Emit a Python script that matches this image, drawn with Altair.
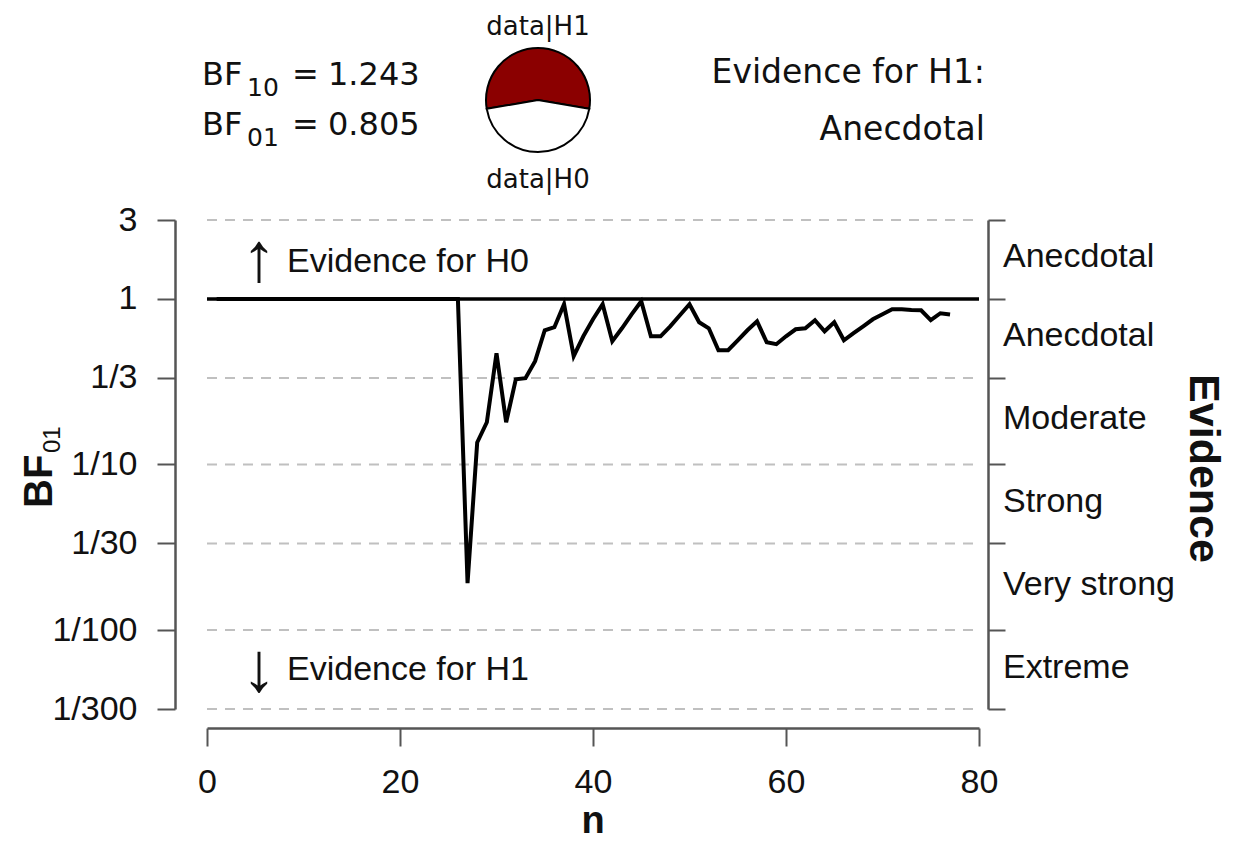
import math
import altair as alt
import pandas as pd

# ---------------- data ----------------
n_values = [1, 2, 3, 4, 5, 6, 7, 8, 9, 10, 11, 12, 13, 14, 15, 16, 17, 18, 19, 20,
            21, 22, 23, 24, 25, 26, 27, 28, 29, 30, 31, 32, 33, 34, 35, 36, 37, 38, 39, 40,
            41, 42, 43, 44, 45, 46, 47, 48, 49, 50, 51, 52, 53, 54, 55, 56, 57, 58, 59, 60,
            61, 62, 63, 64, 65, 66, 67, 68, 69, 70, 71, 72, 73, 74, 75, 76, 77]
bf01_values = [1.0, 1.0, 1.0, 1.0, 1.0, 1.0, 1.0, 1.0, 1.0, 1.0,
               1.0, 1.0, 1.0, 1.0, 1.0, 1.0, 1.0, 1.0, 1.0, 1.0,
               1.0, 1.0, 1.0, 1.0, 1.0, 1.0,
               0.0192, 0.136, 0.180, 0.470, 0.180, 0.327, 0.332, 0.421, 0.647, 0.675,
               0.929, 0.451, 0.595, 0.754, 0.929, 0.555, 0.665, 0.808, 0.969, 0.595,
               0.595, 0.684, 0.797, 0.929, 0.723, 0.665, 0.490, 0.490, 0.563, 0.647,
               0.733, 0.548, 0.533, 0.595, 0.656, 0.665, 0.744, 0.638, 0.723, 0.563,
               0.621, 0.684, 0.754, 0.808, 0.867, 0.867, 0.858, 0.854, 0.744, 0.820,
               0.805]

y_tick_values = [3, 1, 1/3, 1/10, 1/30, 1/100, 1/300]
grid_values = [3, 1/3, 1/10, 1/30, 1/100, 1/300]
x_tick_values = [0, 20, 40, 60, 80]

evidence_labels = ["Anecdotal", "Anecdotal", "Moderate", "Strong", "Very strong", "Extreme"]
evidence_upper = [3, 1, 1/3, 1/10, 1/30, 1/100]
evidence_lower = [1, 1/3, 1/10, 1/30, 1/100, 1/300]

bf10 = 1.243
bf01 = 0.805
bf10_text = "1.243"
bf01_text = "0.805"
verdict_lines = ["Evidence for H1:", "Anecdotal"]

# ---------------- layout ----------------
W, H = 772, 489
FONT = "Liberation Sans"
HFONT = "DejaVu Sans"
AXIS_GREY = "#555555"

xs = alt.Scale(domain=[0, 80], nice=False, zero=False)
ys = alt.Scale(type="log", domain=[1/300, 3], nice=False)

label_expr = "datum.value >= 0.99 ? format(datum.value, '.0f') : '1/' + format(1 / datum.value, '.0f')"

left_axis = alt.Axis(
    orient="left", values=y_tick_values, labelExpr=label_expr, title=None,
    offset=32, tickSize=18, tickWidth=2, tickColor=AXIS_GREY,
    domainColor=AXIS_GREY, domainWidth=2.5, labelPadding=20,
    labelFont=FONT, labelFontSize=34, labelColor="#111111",
    labelOverlap=False, grid=False,
)
right_axis = alt.Axis(
    orient="right", values=y_tick_values, labels=False, title=None,
    offset=9, tickSize=17, tickWidth=2, tickColor=AXIS_GREY,
    domainColor=AXIS_GREY, domainWidth=2.5, grid=False,
)
x_axis = alt.Axis(
    orient="bottom", values=x_tick_values, title=None, format="d",
    offset=19, tickSize=18, tickWidth=2, tickColor=AXIS_GREY,
    domainColor=AXIS_GREY, domainWidth=2.5, labelPadding=19,
    labelFont=FONT, labelFontSize=34, labelColor="#111111",
    labelOverlap=False, labelFlush=False, grid=False,
)

line_df = pd.DataFrame({"n": n_values, "bf": bf01_values})
grid_df = pd.DataFrame({"v": grid_values})
ref_df = pd.DataFrame({"v": [1]})
ev_df = pd.DataFrame({"label": evidence_labels, "lo": evidence_lower, "hi": evidence_upper})

grid = alt.Chart(grid_df).mark_rule(
    strokeDash=[10, 8], color="#C0C0C0", strokeWidth=2
).encode(
    y=alt.Y("v:Q", scale=ys, axis=right_axis),
    x=alt.value(0), x2=alt.value(W),
)

ref = alt.Chart(ref_df).mark_rule(color="black", strokeWidth=3.5).encode(
    y=alt.Y("v:Q", scale=ys, axis=None),
    x=alt.value(0), x2=alt.value(W),
)

line = alt.Chart(line_df).mark_line(color="black", strokeWidth=4).encode(
    x=alt.X("n:Q", scale=xs, axis=x_axis),
    y=alt.Y("bf:Q", scale=ys, axis=left_axis),
)

ev_text = alt.Chart(ev_df).transform_calculate(
    mid="sqrt(datum.lo * datum.hi)"
).mark_text(
    align="left", baseline="alphabetic", dy=8, font=FONT, fontSize=34, color="#111111"
).encode(
    y=alt.Y("mid:Q", scale=ys, axis=None),
    x=alt.value(796),
    text="label:N",
)


def txt(text, x, y, size, font=FONT, weight="normal", align="left",
        baseline="alphabetic", angle=0, color="#111111"):
    kw = dict(align=align, baseline=baseline, font=font, fontSize=size,
              fontWeight=weight, color=color)
    if angle:
        kw["angle"] = angle
    return alt.Chart(pd.DataFrame({"t": [text]})).mark_text(**kw).encode(
        text="t:N", x=alt.value(x), y=alt.value(y)
    )


annotations = [
    # evidence direction notes
    txt("\u2191", 52, 40, 70, align="center", baseline="middle"),
    txt("Evidence for H0", 80, 52, 34),
    txt("\u2193", 52, 450, 70, align="center", baseline="middle"),
    txt("Evidence for H1", 80, 460, 34),
    # axis titles
    txt("n", 386, 613, 38, weight="bold", align="center"),
    txt("BF", -155, 288, 40, weight="bold", angle=270),
    txt("01", -147, 233, 24, angle=270),
    txt("Evidence", 983, 248.5, 43, weight="bold", align="center", angle=90),
    # header: Bayes factors
    txt("BF", -5, -135, 32, font=HFONT),
    txt("10", 40, -124, 25, font=HFONT),
    txt("=", 85, -135, 32, font=HFONT),
    txt(bf10_text, 121, -135, 32, font=HFONT),
    txt("BF", -5, -85, 32, font=HFONT),
    txt("01", 40, -74, 25, font=HFONT),
    txt("=", 85, -85, 32, font=HFONT),
    txt(bf01_text, 121, -85, 32, font=HFONT),
    # header: verdict
    txt(verdict_lines[0], 778, -137, 33, font=HFONT, align="right"),
    txt(verdict_lines[1], 778, -80, 33, font=HFONT, align="right"),
    # pie labels
    txt("data|H1", 331, -185, 26, font=HFONT, align="center"),
    txt("data|H0", 331, -32, 26, font=HFONT, align="center"),
]

# pie of P(data|H1) vs P(data|H0)
p_h1 = bf10 / (1 + bf10)
half = p_h1 * math.pi
pie_df = pd.DataFrame({
    "side": ["data|H1", "data|H0"],
    "start": [2 * math.pi - half, half],
    "end": [2 * math.pi + half, 2 * math.pi - half],
    "fill": ["#8B0000", "#FFFFFF"],
})
pie = alt.Chart(pie_df).mark_arc(radius=52, stroke="black", strokeWidth=2).encode(
    theta=alt.Theta("start:Q", scale=None),
    theta2=alt.Theta2("end:Q"),
    color=alt.Color("fill:N", scale=None),
    x=alt.value(331), y=alt.value(-120),
)

chart = alt.layer(grid, ref, line, ev_text, pie, *annotations).resolve_axis(
    y="independent"
).properties(
    width=W, height=H,
    autosize=alt.AutoSizeParams(type="none"),
    padding={"left": 199, "top": 212, "right": 250, "bottom": 132},
).configure_view(stroke="transparent")

chart.save("out.html", embed_options={"renderer": "svg", "actions": False})
